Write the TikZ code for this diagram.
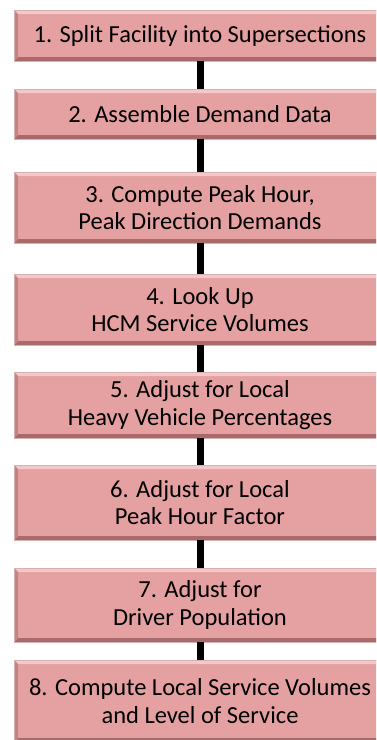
\documentclass[tikz,border=0pt]{standalone}
\usepackage{fontspec}
\setmainfont{Carlito}
\definecolor{boxfill}{HTML}{E5A1A1}
\definecolor{bevlight}{HTML}{F4C8C8}
\definecolor{bevdark}{HTML}{A86A6A}
\definecolor{bevside}{HTML}{C48383}
\definecolor{boxedge}{HTML}{D9B0B0}
\tikzset{
  stepbox/.style={draw=boxedge, line width=0.6pt, fill=boxfill, minimum width=372pt, inner sep=0pt,
    align=center, font=\fontsize{24.5}{27.5}\selectfont, text=black,
    path picture={
      \fill[bevlight] (path picture bounding box.north west) -- (path picture bounding box.north east)
        -- ([xshift=-4pt,yshift=-4pt]path picture bounding box.north east)
        -- ([xshift=4pt,yshift=-4pt]path picture bounding box.north west) -- cycle;
      \fill[bevdark] (path picture bounding box.south west) -- (path picture bounding box.south east)
        -- ([xshift=-4pt,yshift=4pt]path picture bounding box.south east)
        -- ([xshift=4pt,yshift=4pt]path picture bounding box.south west) -- cycle;
      \fill[bevside] (path picture bounding box.north west) -- ([xshift=4pt,yshift=-4pt]path picture bounding box.north west)
        -- ([xshift=4pt,yshift=4pt]path picture bounding box.south west)
        -- (path picture bounding box.south west) -- cycle;
    }},
  conn/.style={line width=7pt, black}
}
\begin{document}
\begin{tikzpicture}[x=1pt,y=-1pt]
\useasboundingbox (0,0) rectangle (376,740);
\clip (0,0) rectangle (376,740);
\fill[white] (0,0) rectangle (376,740);
\node[stepbox, minimum height=51pt] (b1) at (200,35.5) {1. Split Facility into Supersections};
\node[stepbox, minimum height=50pt] (b2) at (200,114) {2. Assemble Demand Data};
\node[stepbox, minimum height=71pt] (b3) at (200,207.5) {3. Compute Peak Hour,\\Peak Direction Demands};
\node[stepbox, minimum height=71pt] (b4) at (200,309.5) {4. Look Up\\HCM Service Volumes};
\node[stepbox, minimum height=66pt] (b5) at (200,405) {5. Adjust for Local\\Heavy Vehicle Percentages};
\node[stepbox, minimum height=75pt] (b6) at (200,502.5) {6. Adjust for Local\\Peak Hour Factor};
\node[stepbox, minimum height=74pt] (b7) at (200,605) {7. Adjust for\\Driver Population};
\node[stepbox, minimum height=82pt] (b8) at (200,701) {8. Compute Local Service Volumes\\and Level of Service};
\draw[conn] (b1.south) -- (b2.north);
\draw[conn] (b2.south) -- (b3.north);
\draw[conn] (b3.south) -- (b4.north);
\draw[conn] (b4.south) -- (b5.north);
\draw[conn] (b5.south) -- (b6.north);
\draw[conn] (b6.south) -- (b7.north);
\draw[conn] (b7.south) -- (b8.north);
\end{tikzpicture}
\end{document}
